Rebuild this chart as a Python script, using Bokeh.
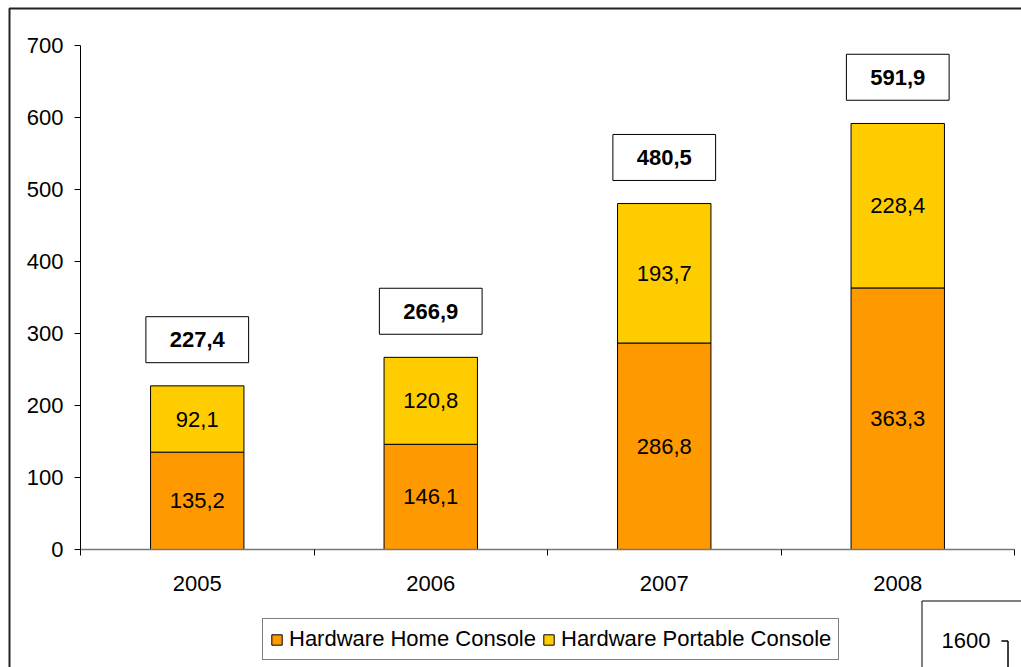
from bokeh.plotting import figure
from bokeh.models import (ColumnDataSource, Legend, LegendItem, Label,
                          PolyAnnotation, Range1d, LinearAxis, FixedTicker)
from bokeh.core.properties import value
from bokeh.embed import file_html
from bokeh.resources import INLINE

years = ["2005", "2006", "2007", "2008"]
home = [135.2, 146.1, 286.8, 363.3]
portable = [92.1, 120.8, 193.7, 228.4]
totals = [227.4, 266.9, 480.5, 591.9]
y_ticks = [0, 100, 200, 300, 400, 500, 600, 700]

FONT = "Liberation Sans"
ORANGE = "#FF9900"
YELLOW = "#FFCC00"
FS = "22px"

def fmt(v):
    return f"{v:.1f}".replace(".", ",")

xs = [i + 0.5 for i in range(len(years))]

src = ColumnDataSource(dict(
    x=xs,
    home_bottom=[0] * len(years),
    home_top=home,
    port_bottom=home,
    port_top=[h + q for h, q in zip(home, portable)],
    home_mid=[h / 2 for h in home],
    port_mid=[h + q / 2 for h, q in zip(home, portable)],
    home_lbl=[fmt(v) for v in home],
    port_lbl=[fmt(v) for v in portable],
    total_box=[t + 64 for t in totals],
    total_lbl=[fmt(v) for v in totals],
))

# frame covers the whole canvas; axes are placed at fixed data locations
p = figure(width=1021, height=667,
           x_range=Range1d(-80 / 233.5, 941 / 233.5),
           y_range=Range1d(-118 / 0.72, 549 / 0.72),
           output_backend="svg", toolbar_location=None,
           x_axis_type=None, y_axis_type=None,
           min_border=0, min_border_left=0, min_border_right=0,
           min_border_top=0, min_border_bottom=0)
p.outline_line_color = None
p.xgrid.grid_line_color = None
p.ygrid.grid_line_color = None
p.background_fill_color = "white"
p.border_fill_color = "white"

r_home = p.vbar(x="x", bottom="home_bottom", top="home_top", width=0.4, source=src,
                fill_color=ORANGE, line_color="black", line_width=1)
r_port = p.vbar(x="x", bottom="port_bottom", top="port_top", width=0.4, source=src,
                fill_color=YELLOW, line_color="black", line_width=1)

p.text(x="x", y="home_mid", text="home_lbl", source=src, text_align="center",
       text_baseline="middle", text_font=value(FONT), text_font_size=FS, text_color="black")
p.text(x="x", y="port_mid", text="port_lbl", source=src, text_align="center",
       text_baseline="middle", text_font=value(FONT), text_font_size=FS, text_color="black")

p.rect(x="x", y="total_box", width=0.44, height=46, height_units="screen", source=src,
       fill_color="white", line_color="black", line_width=1)
p.text(x="x", y="total_box", text="total_lbl", source=src, text_align="center",
       text_baseline="middle", text_font=value(FONT), text_font_size=FS,
       text_font_style="bold", text_color="black")

# axes
yaxis = LinearAxis(fixed_location=0, bounds=(0, 700), ticker=FixedTicker(ticks=y_ticks))
yaxis.axis_line_color = "black"
yaxis.major_tick_line_color = "black"
yaxis.major_tick_out = 6
yaxis.major_tick_in = 0
yaxis.minor_tick_line_color = None
yaxis.major_label_text_font = FONT
yaxis.major_label_text_font_size = FS
yaxis.major_label_text_color = "black"
yaxis.major_label_standoff = 11
p.add_layout(yaxis, "left")

xaxis = LinearAxis(fixed_location=0, bounds=(0, len(years)),
                   ticker=FixedTicker(ticks=xs, minor_ticks=list(range(len(years) + 1))))
xaxis.major_label_overrides = {x: y for x, y in zip(xs, years)}
xaxis.axis_line_color = "#777777"
xaxis.axis_line_width = 1.5
xaxis.major_tick_line_color = None
xaxis.major_tick_out = 0
xaxis.major_tick_in = 0
xaxis.minor_tick_line_color = "black"
xaxis.minor_tick_out = 6
xaxis.minor_tick_in = 0
xaxis.major_label_text_font = FONT
xaxis.major_label_text_font_size = FS
xaxis.major_label_text_color = "black"
xaxis.major_label_standoff = 20
p.add_layout(xaxis, "below")

legend = Legend(items=[LegendItem(label="Hardware Home Console", renderers=[r_home]),
                       LegendItem(label="Hardware Portable Console", renderers=[r_port])],
                orientation="horizontal", location=(262, 7))
legend.label_text_font = FONT
legend.label_text_font_size = FS
legend.label_text_color = "black"
legend.glyph_width = 13
legend.glyph_height = 13
legend.label_standoff = 6
legend.spacing = 6
legend.padding = 7
legend.margin = 0
legend.border_line_color = "black"
legend.border_line_width = 1
legend.background_fill_color = "white"
legend.background_fill_alpha = 1
p.add_layout(legend, "center")

# outer chart border (left and top edges)
p.add_layout(PolyAnnotation(xs=[9, 9, 1022, 1022], ys=[668, 8, 8, 668],
                            xs_units="canvas", ys_units="canvas",
                            fill_alpha=0, line_color="#222222", line_alpha=1,
                            line_width=2, level="overlay"))

# neighbouring chart fragment
p.add_layout(PolyAnnotation(xs=[921.5, 921.5, 1022, 1022], ys=[668, 600.5, 600.5, 668],
                            xs_units="canvas", ys_units="canvas",
                            fill_color="white", fill_alpha=1, line_color="black",
                            line_alpha=1, line_width=1, level="overlay"))
p.add_layout(PolyAnnotation(xs=[1001, 1007.5, 1007.5, 1007.5], ys=[640.5, 640.5, 668, 640.5],
                            xs_units="canvas", ys_units="canvas",
                            fill_alpha=0, line_color="black", line_alpha=1,
                            line_width=1, level="overlay"))
p.add_layout(Label(x=941, y=640, x_units="canvas", y_units="canvas", text="1600",
                   text_font=FONT, text_font_size=FS, text_color="black",
                   text_baseline="middle", level="overlay"))

open("out.html", "w").write(file_html(p, INLINE))
